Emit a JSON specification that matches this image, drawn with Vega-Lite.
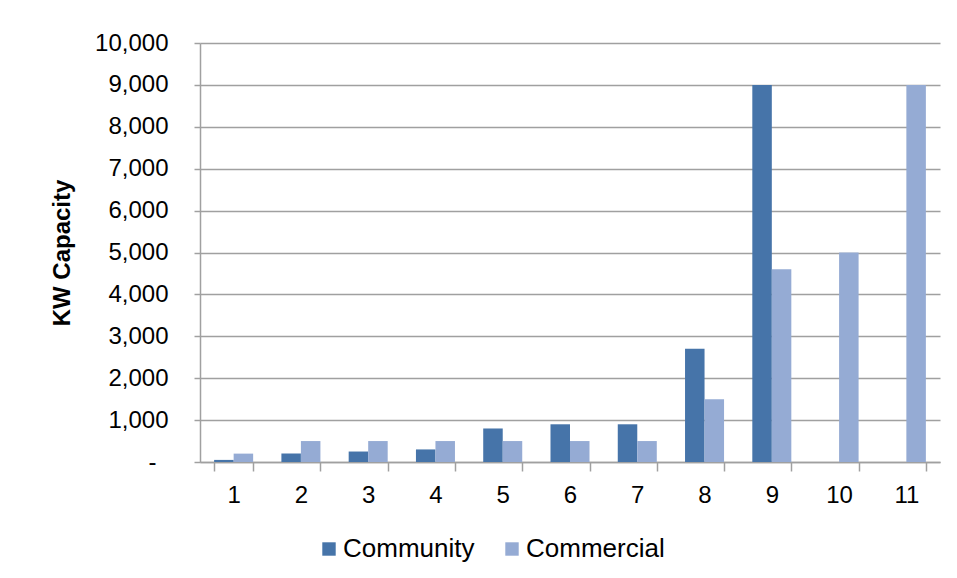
{
  "$schema": "https://vega.github.io/schema/vega-lite/v6.json",
  "width": 740,
  "height": 419,
  "autosize": {"type": "none"},
  "padding": {"left": 200, "top": 43, "right": 17, "bottom": 116},
  "background": "white",
  "config": {
    "view": {"stroke": null},
    "font": "Liberation Sans",
    "axis": {
      "labelFont": "Liberation Sans",
      "labelColor": "#000000",
      "labelFontSize": 24,
      "domainColor": "#A0A0A0",
      "domainWidth": 1.5,
      "tickColor": "#A0A0A0",
      "tickWidth": 1.5
    }
  },
  "data": {
    "values": [
      {"site": 1, "type": "Community", "kw": 50},
      {"site": 1, "type": "Commercial", "kw": 200},
      {"site": 2, "type": "Community", "kw": 200},
      {"site": 2, "type": "Commercial", "kw": 500},
      {"site": 3, "type": "Community", "kw": 250},
      {"site": 3, "type": "Commercial", "kw": 500},
      {"site": 4, "type": "Community", "kw": 300},
      {"site": 4, "type": "Commercial", "kw": 500},
      {"site": 5, "type": "Community", "kw": 800},
      {"site": 5, "type": "Commercial", "kw": 500},
      {"site": 6, "type": "Community", "kw": 900},
      {"site": 6, "type": "Commercial", "kw": 500},
      {"site": 7, "type": "Community", "kw": 900},
      {"site": 7, "type": "Commercial", "kw": 500},
      {"site": 8, "type": "Community", "kw": 2700},
      {"site": 8, "type": "Commercial", "kw": 1500},
      {"site": 9, "type": "Community", "kw": 9000},
      {"site": 9, "type": "Commercial", "kw": 4600},
      {"site": 10, "type": "Commercial", "kw": 5000},
      {"site": 11, "type": "Commercial", "kw": 9000}
    ]
  },
  "mark": {"type": "bar"},
  "encoding": {
    "x": {
      "field": "site",
      "type": "ordinal",
      "scale": {"paddingInner": 0.42, "paddingOuter": 0.21},
      "axis": {
        "title": null,
        "labelAngle": 0,
        "tickBand": "extent",
        "tickSize": 9,
        "labelPadding": 12,
        "grid": false
      }
    },
    "xOffset": {
      "field": "type",
      "type": "nominal",
      "sort": ["Community", "Commercial"]
    },
    "y": {
      "field": "kw",
      "type": "quantitative",
      "scale": {"domain": [0, 10000], "nice": false},
      "axis": {
        "title": "KW Capacity",
        "titleFont": "Liberation Sans",
        "titleFontSize": 24,
        "titleFontWeight": "bold",
        "titleColor": "#000000",
        "titleAngle": -90,
        "titleAlign": "center",
        "titleBaseline": "middle",
        "titleX": -138,
        "titleY": 209.5,
        "values": [0, 1000, 2000, 3000, 4000, 5000, 6000, 7000, 8000, 9000, 10000],
        "labelExpr": "datum.value == 0 ? '-' : format(datum.value, ',')",
        "tickSize": 6,
        "labelPadding": {"condition": {"test": "datum.value == 0", "value": 38}, "value": 26},
        "grid": true,
        "gridColor": "#A0A0A0",
        "gridWidth": 1.5
      }
    },
    "color": {
      "field": "type",
      "type": "nominal",
      "sort": ["Community", "Commercial"],
      "scale": {"domain": ["Community", "Commercial"], "range": ["#4674A9", "#95ABD4"]},
      "legend": {
        "title": null,
        "orient": "none",
        "direction": "horizontal",
        "legendX": 116,
        "legendY": 493,
        "symbolType": "square",
        "symbolSize": 180,
        "symbolStrokeWidth": 0,
        "labelFont": "Liberation Sans",
        "labelFontSize": 26,
        "labelColor": "#000000",
        "labelOffset": 1,
        "columnPadding": 24
      }
    }
  }
}
